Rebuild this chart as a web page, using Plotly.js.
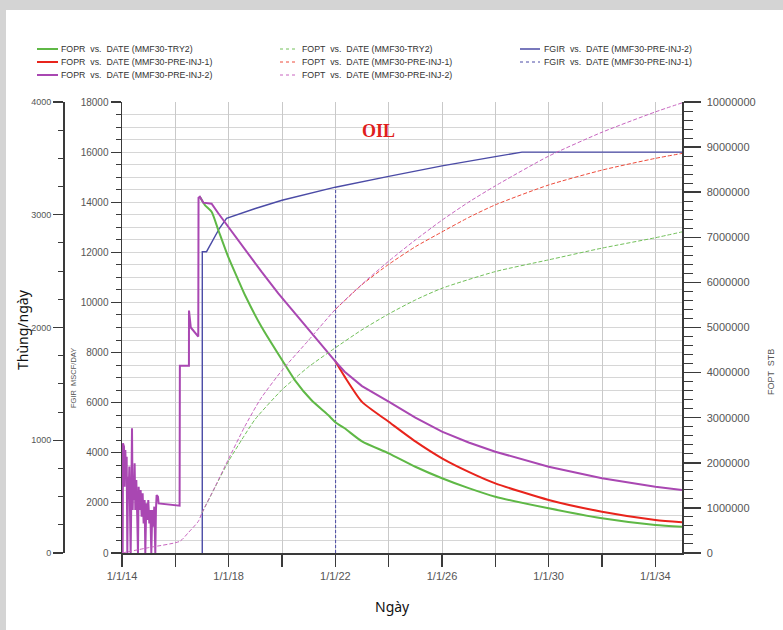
<!DOCTYPE html>
<html>
<head>
<meta charset="utf-8">
<script src="https://cdn.plot.ly/plotly-3.0.1.min.js"></script>
<style>html,body{margin:0;padding:0;background:#fff;overflow:hidden;}#chart{width:783px;height:630px;}</style>
</head>
<body>
<div id="chart"></div>
<script>
// ---------- DATA (years as decimal years) ----------
// FOPR, bbl/day (left outer axis 0-4000)
const foprInj2Year = [2014.025,2014.037,2014.075,2014.1,2014.125,2014.15,2014.175,2014.2,2014.225,2014.25,2014.275,2014.3,2014.325,2014.35,2014.375,2014.4,2014.424,2014.449,2014.474,2014.499,2014.537,2014.574,2014.599,2014.624,2014.662,2014.699,2014.737,2014.774,2014.811,2014.849,2014.874,2014.911,2014.949,2014.986,2015.024,2015.061,2015.099,2015.136,2015.174,2015.211,2015.249,2015.273,2015.298,2015.348,2015.373,2016.16,2016.17,2016.51,2016.512,2016.58,2016.86,2016.87,2016.92,2017.05,2017.36,2017.61,2017.98,2018.61,2019.23,2019.86,2020.48,2021.1,2021.73,2022.0,2022.35,2023.0,2024.0,2025.0,2026.0,2027.0,2028.0,2029.0,2030.0,2032.0,2034.0,2035.0];
const foprInj2 = [0,973,943,588,914,677,854,0,677,529,766,441,0,500,1106,381,677,470,795,381,647,293,0,588,381,559,322,529,263,470,0,441,293,470,263,381,0,381,234,411,0,381,514,500,440,420,1660,1660,2150,2000,1920,3150,3160,3107,3098,3013,2894,2687,2495,2303,2126,1949,1771,1700,1608,1480,1342,1200,1076,980,898,828,765,663,588,559];

const foprTry2Year = [2016.92,2017.11,2017.36,2017.61,2017.98,2018.36,2018.61,2019.23,2020.04,2020.48,2021.1,2021.73,2022.0,2022.35,2023.0,2024.0,2025.0,2026.0,2027.0,2028.0,2030.0,2032.0,2034.0,2035.0];
const foprTry2 = [3160,3086,3027,2865,2628,2421,2288,2007,1697,1534,1357,1224,1160,1106,990,884,765,663,575,499,396,308,248,233];

const foprInj1Year = [2022.0,2022.35,2023.0,2024.0,2025.0,2026.0,2027.0,2028.0,2030.0,2032.0,2034.0,2035.0];
const foprInj1 = [1700,1564,1340,1164,990,840,720,618,470,366,293,272];

// FOPT, STB (right axis 0-1e7)
const foptInj2Year = [2014.0,2015.0,2016.17,2016.5,2016.86,2017.0,2017.5,2018.0,2018.6,2019.2,2020.0,2021.0,2022.0,2023.0,2024.0,2025.0,2026.0,2027.0,2028.0,2030.0,2032.0,2034.0,2035.0];
const foptInj2 = [0,120000,260000,460000,700000,890000,1480000,2090000,2800000,3420000,4050000,4720000,5400000,5960000,6470000,6940000,7380000,7780000,8140000,8800000,9330000,9780000,9980000];

const foptTry2Year = [2017.0,2017.5,2018.0,2018.5,2019.0,2020.0,2020.5,2021.0,2022.0,2023.0,2024.0,2025.0,2026.0,2028.0,2030.0,2032.0,2034.0,2035.0];
const foptTry2 = [890000,1470000,2040000,2520000,2970000,3620000,3880000,4130000,4550000,4950000,5300000,5610000,5870000,6240000,6500000,6760000,6990000,7120000];

const foptInj1Year = [2022.0,2023.0,2024.0,2025.0,2026.0,2027.0,2028.0,2030.0,2032.0,2034.0,2035.0];
const foptInj1 = [5400000,5950000,6400000,6790000,7120000,7440000,7720000,8160000,8490000,8750000,8860000];

// FGIR, MSCF/day (left inner axis 0-18000)
const fgirInj2Year = [2017.01,2017.011,2017.17,2017.4,2017.65,2017.92,2019.0,2020.0,2022.0,2024.0,2026.0,2028.0,2029.0,2035.0];
const fgirInj2 = [0,12025,12025,12450,12950,13358,13750,14080,14600,15030,15450,15820,16000,16000];

const fgirInj1Year = [2022.01,2022.011];
const fgirInj1 = [0,14600];

// tick labels
const xTickVals = [2014,2016,2018,2020,2022,2024,2026,2028,2030,2032,2034];
const xTickText = ['1/1/14','','1/1/18','','1/1/22','','1/1/26','','1/1/30','','1/1/34'];

const legendNames = [
  ['FOPR  vs.  DATE (MMF30-TRY2)','FOPR  vs.  DATE (MMF30-PRE-INJ-1)','FOPR  vs.  DATE (MMF30-PRE-INJ-2)'],
  ['FOPT  vs.  DATE (MMF30-TRY2)','FOPT  vs.  DATE (MMF30-PRE-INJ-1)','FOPT  vs.  DATE (MMF30-PRE-INJ-2)'],
  ['FGIR  vs.  DATE (MMF30-PRE-INJ-2)','FGIR  vs.  DATE (MMF30-PRE-INJ-1)']
];

// ---------- STYLE ----------
const GREEN='#5fb846', RED='#e8241c', MAG='#a947b2', BLUE='#4b4ba6';
const GREEN_D='#72c05a', RED_D='#ee4a3a', MAG_D='#c865c0';

const W=783,H=630, ML=10, MR=10, MT=102, MB=77;
const PW=W-ML-MR, PH=H-MT-MB;
const fx = p => (p-ML)/PW;
const fy = p => (H-MB-p)/PH;

const traces = [
  {x:fgirInj1Year,y:fgirInj1,yaxis:'y',mode:'lines',line:{color:BLUE,width:1,dash:'3px,2px'},name:legendNames[2][1]},
  {x:fgirInj2Year,y:fgirInj2,yaxis:'y',mode:'lines',line:{color:BLUE,width:1.4},name:legendNames[2][0]},
  {x:foptTry2Year,y:foptTry2,yaxis:'y3',mode:'lines',line:{color:GREEN_D,width:1,dash:'4px,2px',shape:'spline',smoothing:0.6},name:legendNames[1][0]},
  {x:foptInj1Year,y:foptInj1,yaxis:'y3',mode:'lines',line:{color:RED_D,width:1,dash:'4px,2px',shape:'spline',smoothing:0.6},name:legendNames[1][1]},
  {x:foptInj2Year,y:foptInj2,yaxis:'y3',mode:'lines',line:{color:MAG_D,width:1,dash:'4px,2px',shape:'spline',smoothing:0.6},name:legendNames[1][2]},
  {x:foprTry2Year,y:foprTry2,yaxis:'y2',mode:'lines',line:{color:GREEN,width:2,shape:'spline',smoothing:0.6},name:legendNames[0][0]},
  {x:foprInj1Year,y:foprInj1,yaxis:'y2',mode:'lines',line:{color:RED,width:2,shape:'spline',smoothing:0.6},name:legendNames[0][1]},
  {x:foprInj2Year,y:foprInj2,yaxis:'y2',mode:'lines',line:{color:MAG,width:2},name:legendNames[0][2]}
];

const AX='#3a3a3a', TICKF={family:'Liberation Sans, Arial, sans-serif',size:11,color:'#555'};

const shapes = [
  {type:'rect',xref:'paper',yref:'paper',x0:fx(0),x1:fx(W),y0:fy(0),y1:fy(10),fillcolor:'#d4d4d4',line:{width:0},layer:'below'},
  {type:'rect',xref:'paper',yref:'paper',x0:fx(0),x1:fx(6),y0:fy(0),y1:fy(H),fillcolor:'#d4d4d4',line:{width:0},layer:'below'}
];
const annotations = [];
const colX = [[37,58,59],[280,296,300],[520,540,542]];
const rowY = [49,62,75];
const legendStyles = [
  [{c:GREEN,w:2,d:'solid'},{c:RED,w:2,d:'solid'},{c:MAG,w:2,d:'solid'}],
  [{c:GREEN_D,w:1,d:'dot'},{c:RED_D,w:1,d:'dot'},{c:MAG_D,w:1,d:'dot'}],
  [{c:BLUE,w:1.5,d:'solid'},{c:BLUE,w:1,d:'dot'}]
];
const A = (o) => Object.assign({xref:'paper',yref:'paper',showarrow:false,xanchor:'center',yanchor:'middle'},o);
legendNames.forEach((col,ci)=>{
  col.forEach((nm,ri)=>{
    const st = legendStyles[ci][ri];
    shapes.push({type:'line',xref:'paper',yref:'paper',x0:fx(colX[ci][0]),x1:fx(colX[ci][1]),y0:fy(rowY[ri]),y1:fy(rowY[ri]),line:{color:st.c,width:st.w,dash:st.d}});
    annotations.push(A({x:fx(colX[ci][2]),y:fy(rowY[ri]),xanchor:'left',text:nm,font:{family:'Liberation Sans, Arial, sans-serif',size:8.8,color:'#333'}}));
  });
});
annotations.push(
  A({x:fx(378),y:fy(131),text:'<b>OIL</b>',font:{family:'Liberation Serif, Times New Roman, serif',size:18,color:'#e0201c'}}),
  A({x:fx(22),y:fy(330),textangle:-90,text:'Thùng/ngày',font:{family:'Noto Sans, sans-serif',size:14,color:'#111'}}),
  A({x:fx(73),y:fy(378),textangle:-90,text:'FGIR  MSCF/DAY',font:{family:'Liberation Sans, Arial, sans-serif',size:7.5,color:'#555'}}),
  A({x:fx(771),y:fy(372),textangle:-90,text:'FOPT  STB',font:{family:'Liberation Sans, Arial, sans-serif',size:9,color:'#555'}}),
  A({x:fx(392),y:fy(606),text:'Ngày',font:{family:'Noto Sans, sans-serif',size:14,color:'#111'}})
);

const layout = {
  width:W,height:H,
  margin:{l:ML,r:MR,t:MT,b:MB,pad:0},
  paper_bgcolor:'#fff',plot_bgcolor:'#fff',
  showlegend:false,
  xaxis:{domain:[fx(122),fx(682)],range:[2014,2035],tickmode:'array',tickvals:xTickVals,ticktext:xTickText,
    ticks:'outside',ticklen:12,tickwidth:1.5,tickcolor:AX,showline:true,linecolor:AX,linewidth:1.5,
    showgrid:true,gridcolor:'#c9c9c9',gridwidth:1,zeroline:false,tickfont:TICKF,anchor:'y'},
  yaxis:{range:[0,18000],dtick:2000,tickformat:'d',ticks:'outside',ticklen:10,tickwidth:1.2,tickcolor:AX,
    showline:true,linecolor:AX,linewidth:1.5,showgrid:true,gridcolor:'#d6d6d6',gridwidth:1,zeroline:false,
    minor:{dtick:500,ticklen:5,tickcolor:AX,tickwidth:1,showgrid:true,gridcolor:'#d6d6d6',gridwidth:1},
    tickfont:{family:'Liberation Sans, Arial, sans-serif',size:10,color:'#555'},anchor:'x',side:'left'},
  yaxis2:{range:[0,4000],dtick:1000,tickformat:'d',ticks:'outside',ticklen:10,tickwidth:1.2,tickcolor:AX,
    showline:true,linecolor:AX,linewidth:1.5,showgrid:false,zeroline:false,
    minor:{dtick:250,ticklen:5,tickcolor:AX,tickwidth:1,showgrid:false},
    tickfont:{family:'Liberation Sans, Arial, sans-serif',size:9,color:'#555'},
    overlaying:'y',anchor:'free',position:fx(63),side:'left'},
  yaxis3:{range:[0,10000000],dtick:1000000,tickformat:'d',ticks:'outside',ticklen:17,tickwidth:1.5,tickcolor:AX,
    showline:true,linecolor:AX,linewidth:1.5,showgrid:false,zeroline:false,ticklabelstandoff:4,
    minor:{dtick:200000,ticklen:9,tickcolor:AX,tickwidth:1,showgrid:false},
    tickfont:{family:'Liberation Sans, Arial, sans-serif',size:11,color:'#555'},
    overlaying:'y',anchor:'x',side:'right'},
  shapes:shapes,
  annotations:annotations
};

Plotly.newPlot('chart',traces,layout,{staticPlot:true,displayModeBar:false});
</script>
</body>
</html>
